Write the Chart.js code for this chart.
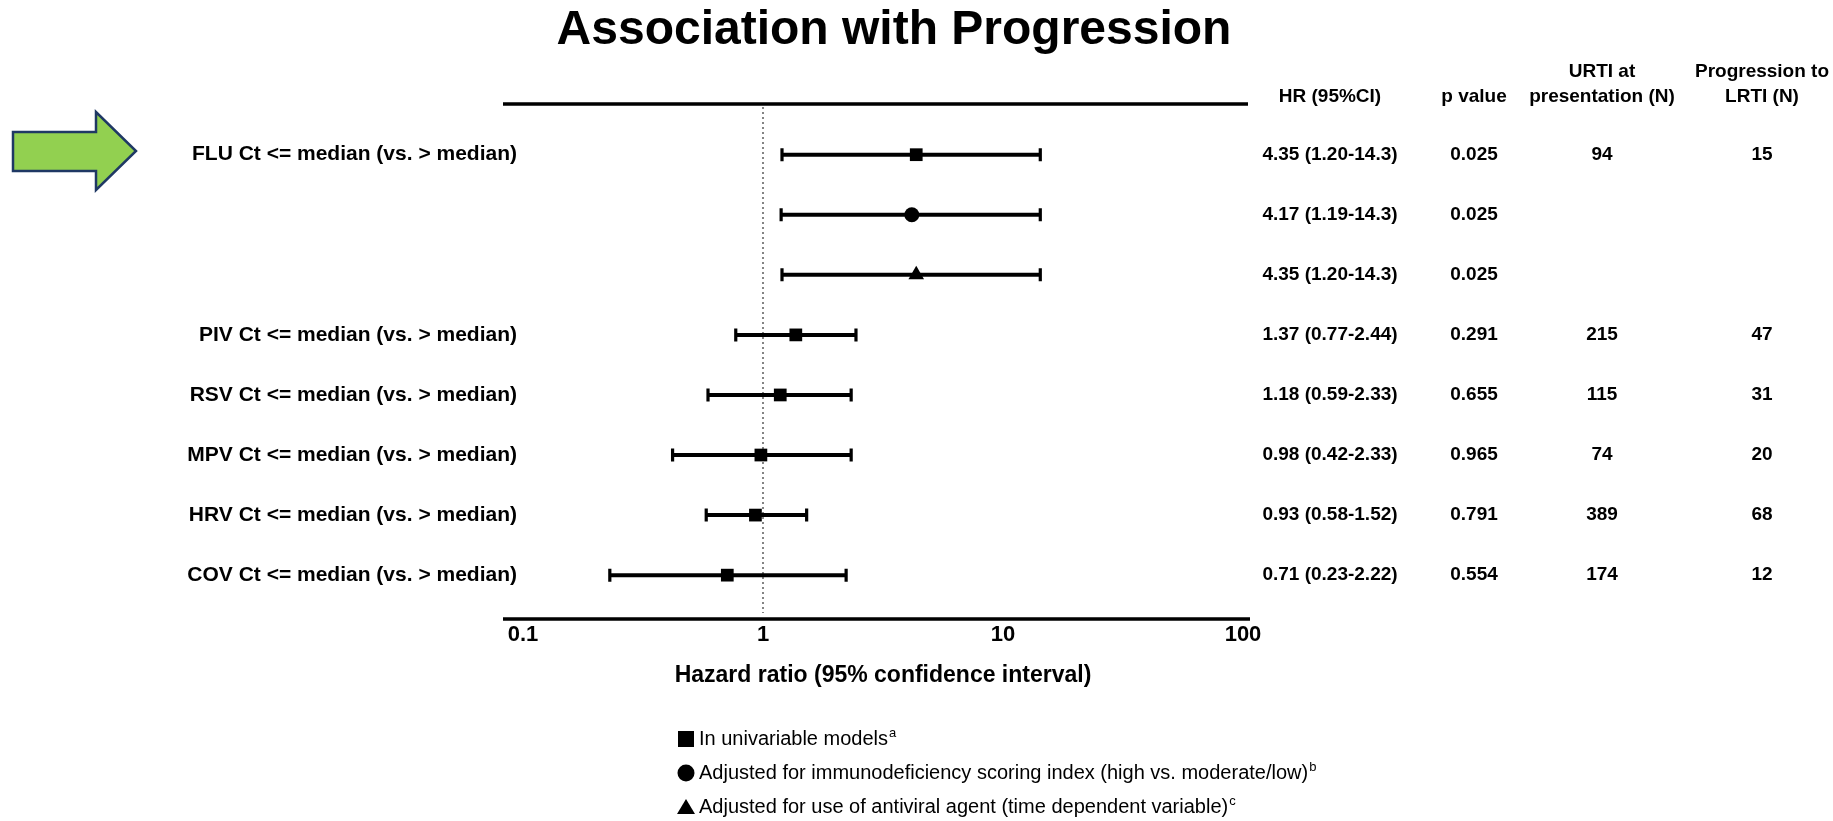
<!DOCTYPE html>
<html>
<head>
<meta charset="utf-8">
<script src="https://cdn.jsdelivr.net/npm/chart.js@4/dist/chart.umd.min.js"></script>
<style>
  html, body { margin: 0; padding: 0; background: #fff; }
  canvas { display: block; }
</style>
</head>
<body>
<canvas id="forest" width="1833" height="821"></canvas>
<script>
const rowLabels = [
  "FLU Ct <= median (vs. > median)", "", "",
  "PIV Ct <= median (vs. > median)",
  "RSV Ct <= median (vs. > median)",
  "MPV Ct <= median (vs. > median)",
  "HRV Ct <= median (vs. > median)",
  "COV Ct <= median (vs. > median)"
];
const models = ["uni", "id", "av", "uni", "uni", "uni", "uni", "uni"];
const hr = [4.35, 4.17, 4.35, 1.37, 1.18, 0.98, 0.93, 0.71];
const lower = [1.20, 1.19, 1.20, 0.77, 0.59, 0.42, 0.58, 0.23];
const upper = [14.3, 14.3, 14.3, 2.44, 2.33, 2.33, 1.52, 2.22];
const pValues = ["0.025", "0.025", "0.025", "0.291", "0.655", "0.965", "0.791", "0.554"];
const urtiN = ["94", "", "", "215", "115", "74", "389", "174"];
const lrtiN = ["15", "", "", "47", "31", "20", "68", "12"];
const xTicks = [0.1, 1, 10, 100];

const FONT = "'Liberation Sans', Arial, sans-serif";

const fmt = (v) => (v >= 10 ? v.toFixed(1) : v.toFixed(2));
const hrText = hr.map((v, i) => `${fmt(v)} (${fmt(lower[i])}-${fmt(upper[i])})`);

function pointsFor(model) {
  const pts = [];
  hr.forEach((v, i) => {
    if (models[i] === model) pts.push({ x: v, y: i });
  });
  return pts;
}

// whiskers, frame lines, reference line and all the table text
const forestPlugin = {
  id: "forest",
  beforeDatasetsDraw(chart) {
    const { ctx, chartArea: a, scales: { x, y } } = chart;
    ctx.save();
    ctx.strokeStyle = "#000";

    // top and bottom rules
    ctx.lineWidth = 3.5;
    ctx.beginPath();
    ctx.moveTo(a.left - 20, a.top);
    ctx.lineTo(a.right + 5, a.top);
    ctx.moveTo(a.left - 20, a.bottom);
    ctx.lineTo(a.right + 7, a.bottom);
    ctx.stroke();

    // null line at HR = 1
    const x1 = x.getPixelForValue(1);
    ctx.lineWidth = 1.2;
    ctx.strokeStyle = "#333";
    ctx.setLineDash([2, 3]);
    ctx.beginPath();
    ctx.moveTo(x1, a.top + 3);
    ctx.lineTo(x1, a.bottom - 6);
    ctx.stroke();
    ctx.setLineDash([]);

    // confidence intervals
    ctx.strokeStyle = "#000";
    hr.forEach((v, i) => {
      const yy = y.getPixelForValue(i);
      const xl = x.getPixelForValue(lower[i]);
      const xh = x.getPixelForValue(upper[i]);
      ctx.lineWidth = 4;
      ctx.beginPath();
      ctx.moveTo(xl, yy);
      ctx.lineTo(xh, yy);
      ctx.stroke();
      ctx.lineWidth = 3.2;
      ctx.beginPath();
      ctx.moveTo(xl, yy - 6.5);
      ctx.lineTo(xl, yy + 6.5);
      ctx.moveTo(xh, yy - 6.5);
      ctx.lineTo(xh, yy + 6.5);
      ctx.stroke();
    });
    ctx.restore();
  },
  afterDraw(chart) {
    const { ctx, chartArea: a, scales: { y } } = chart;
    ctx.save();
    ctx.fillStyle = "#000";

    // title
    ctx.font = `bold 48px ${FONT}`;
    ctx.textAlign = "center";
    ctx.textBaseline = "alphabetic";
    ctx.fillText("Association with Progression", 894, 44);

    // row labels
    ctx.font = `bold 21px ${FONT}`;
    ctx.textAlign = "right";
    ctx.textBaseline = "middle";
    rowLabels.forEach((t, i) => {
      if (t) ctx.fillText(t, a.left - 6, y.getPixelForValue(i));
    });

    // table columns
    const cols = [
      { cx: 1330, head: ["", "HR (95%CI)"], vals: hrText },
      { cx: 1474, head: ["", "p value"], vals: pValues },
      { cx: 1602, head: ["URTI at", "presentation (N)"], vals: urtiN },
      { cx: 1762, head: ["Progression to", "LRTI (N)"], vals: lrtiN }
    ];
    ctx.font = `bold 19px ${FONT}`;
    ctx.textAlign = "center";
    cols.forEach((c) => {
      if (c.head[0]) ctx.fillText(c.head[0], c.cx, 72);
      ctx.fillText(c.head[1], c.cx, 97);
      c.vals.forEach((t, i) => {
        if (t) ctx.fillText(t, c.cx, y.getPixelForValue(i));
      });
    });

    // green arrow
    ctx.beginPath();
    ctx.moveTo(13, 132);
    ctx.lineTo(96, 132);
    ctx.lineTo(96, 112);
    ctx.lineTo(136, 151);
    ctx.lineTo(96, 190);
    ctx.lineTo(96, 171);
    ctx.lineTo(13, 171);
    ctx.closePath();
    ctx.fillStyle = "#92d050";
    ctx.fill();
    ctx.lineWidth = 2.5;
    ctx.strokeStyle = "#1f3864";
    ctx.lineJoin = "miter";
    ctx.stroke();

    // marker key
    ctx.fillStyle = "#000";
    const keys = [
      { shape: "rect", text: "In univariable models", sup: "a", y: 739 },
      { shape: "circle", text: "Adjusted for immunodeficiency scoring index (high vs. moderate/low)", sup: "b", y: 773 },
      { shape: "triangle", text: "Adjusted for use of antiviral agent (time dependent variable)", sup: "c", y: 807 }
    ];
    keys.forEach((k) => {
      const cx = 686;
      ctx.beginPath();
      if (k.shape === "rect") ctx.rect(cx - 8, k.y - 8, 16, 16);
      else if (k.shape === "circle") ctx.arc(cx, k.y, 8.5, 0, Math.PI * 2);
      else {
        ctx.moveTo(cx, k.y - 8);
        ctx.lineTo(cx + 9, k.y + 7);
        ctx.lineTo(cx - 9, k.y + 7);
        ctx.closePath();
      }
      ctx.fill();
      ctx.font = `20px ${FONT}`;
      ctx.textAlign = "left";
      ctx.textBaseline = "middle";
      ctx.fillText(k.text, 699, k.y);
      const w = ctx.measureText(k.text).width;
      ctx.font = `13px ${FONT}`;
      ctx.fillText(k.sup, 700 + w, k.y - 6);
    });
    ctx.restore();
  }
};

const ctx = document.getElementById("forest").getContext("2d");
Chart.defaults.color = "#000";
Chart.defaults.font.family = FONT;

const chart = new Chart(ctx, {
  type: "scatter",
  data: {
    datasets: [
      { label: "In univariable models", data: pointsFor("uni"), pointStyle: "rect", pointRadius: 9 },
      { label: "Adjusted for immunodeficiency scoring index", data: pointsFor("id"), pointStyle: "circle", pointRadius: 7.5 },
      { label: "Adjusted for use of antiviral agent", data: pointsFor("av"), pointStyle: "triangle", pointRadius: 9 }
    ].map((d) => ({ ...d, backgroundColor: "#000", borderColor: "#000", pointBorderWidth: 0, pointHoverRadius: d.pointRadius }))
  },
  options: {
    responsive: false,
    animation: false,
    devicePixelRatio: 1,
    layout: { padding: { left: 523, right: 590, top: 104, bottom: 132 } },
    plugins: { legend: { display: false }, tooltip: { enabled: false } },
    scales: {
      x: {
        type: "logarithmic",
        min: 0.1,
        max: 100,
        afterBuildTicks: (scale) => { scale.ticks = xTicks.map((v) => ({ value: v })); },
        grid: { display: false, drawTicks: false },
        border: { display: false },
        ticks: {
          padding: 3,
          autoSkip: false,
          maxRotation: 0,
          font: { size: 22, weight: "bold" },
          callback: (v) => String(v)
        },
        title: {
          display: true,
          text: "Hazard ratio (95% confidence interval)",
          font: { size: 23, weight: "bold" },
          padding: { top: 10, bottom: 0 }
        }
      },
      y: { type: "linear", reverse: true, min: -0.844, max: 7.73, display: false }
    }
  },
  plugins: [forestPlugin]
});
</script>
</body>
</html>
